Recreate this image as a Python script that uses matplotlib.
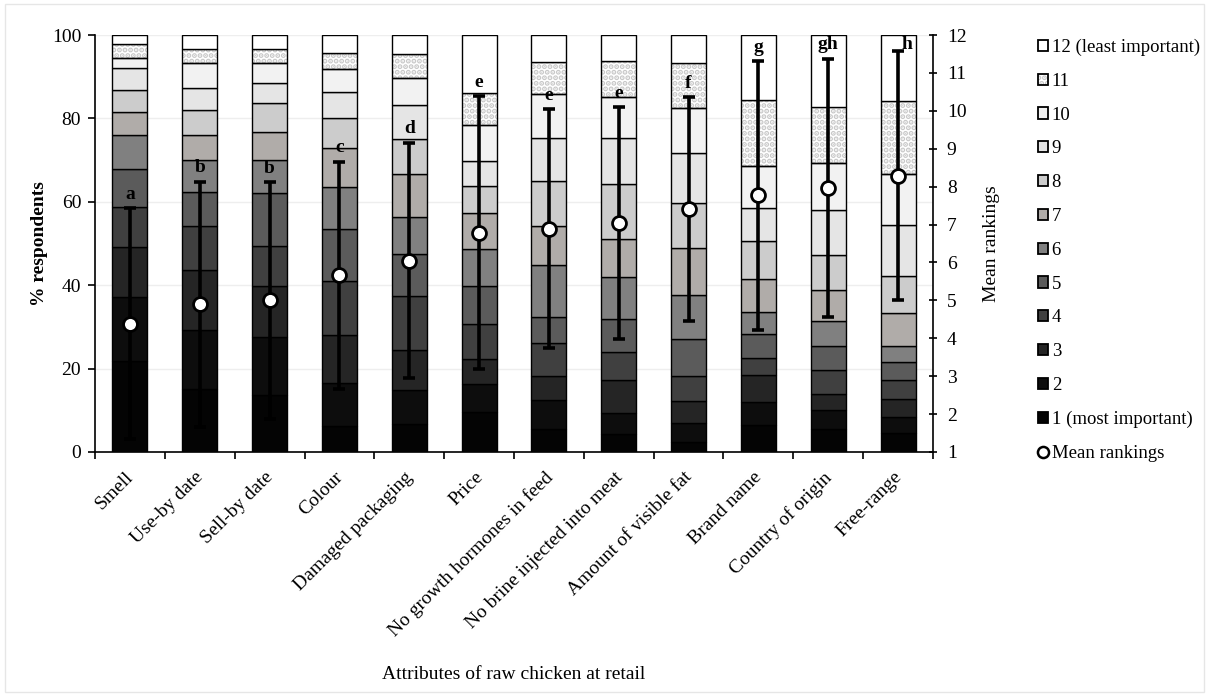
import matplotlib
matplotlib.use("Agg")
import matplotlib.pyplot as plt
import matplotlib.transforms as mtransforms
import numpy as np
from matplotlib.patches import Patch, Rectangle
from matplotlib.lines import Line2D
from matplotlib.legend_handler import HandlerTuple

plt.rcParams['font.family'] = ['Liberation Serif', 'DejaVu Serif']
plt.rcParams['hatch.linewidth'] = 2.6

categories = ["Smell", "Use-by date", "Sell-by date", "Colour", "Damaged packaging",
              "Price", "No growth hormones in feed", "No brine injected into meat",
              "Amount of visible fat", "Brand name", "Country of origin", "Free-range"]

# % respondents giving each rank (rank 1 = most important)
rank1 = [21.7, 15.2, 13.7, 6.2, 6.7, 9.7, 5.5, 4.3, 2.3, 6.5, 5.4, 4.6]
rank2 = [15.4, 14.1, 13.8, 10.3, 8.2, 6.7, 7.0, 5.0, 4.6, 5.6, 4.6, 3.9]
rank3 = [12.0, 14.4, 12.2, 11.5, 9.6, 5.9, 5.8, 8.0, 5.4, 6.3, 3.9, 4.2]
rank4 = [9.6, 10.5, 9.8, 13.1, 13.0, 8.5, 7.8, 6.7, 6.0, 4.1, 5.7, 4.6]
rank5 = [9.1, 8.2, 12.6, 12.3, 10.0, 9.1, 6.2, 7.9, 8.8, 5.9, 5.9, 4.2]
rank6 = [8.2, 7.6, 7.9, 10.1, 8.8, 8.7, 12.6, 10.0, 10.6, 5.1, 6.0, 4.0]
rank7 = [5.6, 6.0, 6.8, 9.3, 10.4, 8.7, 9.2, 9.2, 11.2, 8.0, 7.4, 7.8]
rank8 = [5.2, 5.9, 7.0, 7.2, 8.4, 6.4, 10.8, 13.2, 10.8, 9.0, 8.4, 8.8]
rank9 = [5.2, 5.5, 4.6, 6.4, 8.1, 6.2, 10.3, 10.9, 11.9, 8.0, 10.8, 12.4]
rank10 = [2.4, 5.8, 5.0, 5.5, 6.4, 8.5, 10.7, 10.0, 10.8, 10.2, 11.3, 12.2]
rank11 = [3.4, 3.4, 3.2, 3.9, 5.8, 7.8, 7.7, 8.6, 11.0, 15.6, 13.4, 17.5]
rank12 = [2.2, 3.4, 3.4, 4.2, 4.6, 13.8, 6.4, 6.2, 6.6, 15.7, 17.2, 15.8]

mean_rank = [4.38, 4.90, 5.00, 5.66, 6.05, 6.79, 6.89, 7.04, 7.41, 7.77, 7.97, 8.29]
sd_rank = [3.05, 3.23, 3.12, 3.00, 3.11, 3.60, 3.15, 3.05, 2.95, 3.54, 3.40, 3.29]
sig_letters = ["a", "b", "b", "c", "d", "e", "e", "e", "f", "g", "gh", "h"]

rank_labels = ["1 (most important)", "2", "3", "4", "5", "6", "7", "8", "9", "10",
               "11", "12 (least important)"]
rank_colors = ["#040404", "#0d0d0d", "#252525", "#404040", "#5b5b5b", "#808080",
               "#b0aca9", "#cccccc", "#e5e5e5", "#f2f2f2", "#ffffff", "#ffffff"]

ranks = [rank1, rank2, rank3, rank4, rank5, rank6, rank7, rank8, rank9, rank10, rank11, rank12]

FS = 14

fig = plt.figure(figsize=(12.09, 6.96), dpi=100)
ax = fig.add_axes([0.0786, 0.3506, 0.6931, 0.5991])
x = np.arange(len(categories))
width = 0.5

bottom = np.zeros(len(categories))
handles = []
for k, vals in enumerate(ranks):
    vals = np.array(vals)
    if k == 10:
        ax.bar(x, vals, width, bottom=bottom, color="white", edgecolor="#c8c8c8",
               hatch="...", linewidth=0, zorder=2)
        ax.bar(x, vals, width, bottom=bottom, facecolor="none", edgecolor="black",
               linewidth=1.0, zorder=3)
        h = (Patch(facecolor="white", edgecolor="#c8c8c8", hatch="...", linewidth=0),
             Patch(facecolor="none", edgecolor="black", linewidth=1.3))
    else:
        ax.bar(x, vals, width, bottom=bottom, color=rank_colors[k], edgecolor="black",
               linewidth=1.0, zorder=3)
        h = Patch(facecolor=rank_colors[k], edgecolor="black", linewidth=1.3)
    handles.append(h)
    bottom += vals

ax.set_xlim(-0.5, len(categories) - 0.5)
ax.set_ylim(0, 100)
ax.set_yticks([0, 20, 40, 60, 80, 100])
ax.yaxis.grid(True, color="#eeeeee", linewidth=1.0, zorder=0)
ax.set_axisbelow(True)
ax.set_xticks(np.arange(-0.5, len(categories), 1.0))
ax.set_xticklabels([])
ax.set_xticks(x, minor=True)
ax.set_xticklabels(categories, minor=True, rotation=45, ha="right", va="top",
                   rotation_mode="anchor", fontsize=FS)
ax.tick_params(axis="x", which="minor", length=0, pad=7)
ax.tick_params(axis="x", which="major", length=5, width=1.2, direction="out")
shift = mtransforms.ScaledTranslation(-5 / 100, -7 / 100, fig.dpi_scale_trans)
for lbl in ax.get_xticklabels(minor=True):
    lbl.set_transform(lbl.get_transform() + shift)
ax.tick_params(axis="y", length=5, width=1.2, direction="out", labelsize=FS, pad=5)
for s in ["top", "right"]:
    ax.spines[s].set_visible(False)
ax.spines["left"].set_linewidth(1.2)
ax.spines["bottom"].set_linewidth(1.2)
ax.set_ylabel("% respondents", fontsize=FS, fontweight="bold")
ax.yaxis.set_label_coords(-0.056, 0.5)
ax.set_xlabel("Attributes of raw chicken at retail", fontsize=FS)
ax.xaxis.set_label_coords(0.5, -0.514)

ax2 = ax.twinx()
ax2.set_ylim(1, 12)
ax2.set_yticks(range(1, 13))
ax2.tick_params(axis="y", length=6, width=1.2, direction="inout", labelsize=FS, pad=7)
for s in ["top", "left", "bottom"]:
    ax2.spines[s].set_visible(False)
ax2.spines["right"].set_linewidth(1.2)
ax2.set_ylabel("Mean rankings", fontsize=FS)
ax2.yaxis.set_label_coords(1.06, 0.5)

ax2.errorbar(x, mean_rank, yerr=sd_rank, fmt="none", ecolor="black", elinewidth=2.6,
             capsize=4, capthick=2.6, zorder=4)
ax2.plot(x, mean_rank, "o", markersize=10, markerfacecolor="white",
         markeredgecolor="black", markeredgewidth=2, zorder=5)

ppu = 0.5991 * 696 / 11.0  # pixels per ranking unit
for i, (m, s, lab) in enumerate(zip(mean_rank, sd_rank, sig_letters)):
    top = m + s
    ylab = top + 14 / ppu
    xoff = 0.0
    cap = 12 - 9 / ppu
    if ylab > cap:
        ylab = cap
        xoff = 0.13
    ax2.text(i + xoff, ylab, lab, ha="center", va="center", fontsize=FS,
             fontweight="bold", zorder=6)

mean_handle = Line2D([], [], marker="o", linestyle="none", markersize=8,
                     markerfacecolor="white", markeredgecolor="black", markeredgewidth=1.8)
leg_handles = handles[::-1] + [mean_handle]
leg_labels = rank_labels[::-1] + ["Mean rankings"]
leg = fig.legend(leg_handles, leg_labels, loc="upper left", bbox_to_anchor=(0.852, 0.955),
                 frameon=False, fontsize=13.5, handlelength=0.55, handleheight=0.55,
                 handletextpad=0.2, labelspacing=0.895, borderaxespad=0,
                 handler_map={tuple: HandlerTuple(ndivide=1, pad=0)})

fig.patches.append(Rectangle((0.004, 0.006), 0.992, 0.988, transform=fig.transFigure,
                             fill=False, edgecolor="#e6e6e6", linewidth=1.0))

fig.savefig("out.png", dpi=100)
